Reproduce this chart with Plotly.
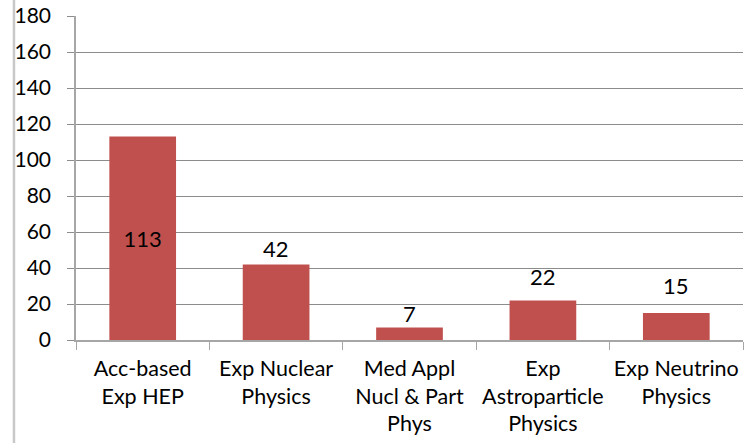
import plotly.graph_objects as go

categories = ["Acc-based<br>Exp HEP", "Exp Nuclear<br>Physics", "Med Appl<br>Nucl & Part<br>Phys",
              "Exp<br>Astroparticle<br>Physics", "Exp Neutrino<br>Physics"]
values = [113, 42, 7, 22, 15]
inside_label = [True, False, False, False, False]
y_ticks = list(range(0, 181, 20))
# pixel offsets of the outside labels above the bar tops (styling)
label_offsets_px = [0, 16, 14, 24, 28]

FONT = "Lato"
fig = go.Figure(go.Bar(
    x=categories, y=values,
    text=[str(v) if ins else "" for v, ins in zip(values, inside_label)],
    textposition="inside", insidetextanchor="middle",
    textfont=dict(family=FONT, size=22, color="black"),
    marker=dict(color="#C0504D", line=dict(width=0)),
    width=0.5, hoverinfo="skip",
))
for c, v, ins, off in zip(categories, values, inside_label, label_offsets_px):
    if not ins:
        fig.add_annotation(x=c, y=v, text=str(v), showarrow=False, yanchor="middle",
                           yshift=off, font=dict(family=FONT, size=22, color="black"))

fig.update_layout(
    width=753, height=443,
    margin=dict(l=76, r=10, t=16, b=103),
    paper_bgcolor="white", plot_bgcolor="white",
    font=dict(family=FONT, size=22, color="black"),
    showlegend=False,
    xaxis=dict(showline=True, linecolor="#A6A6A6", linewidth=1.5, automargin=False, tickangle=0,
               ticks="outside", ticklen=8, tickcolor="#A6A6A6", tickson="boundaries",
               ticklabelstandoff=8,
               tickfont=dict(family=FONT, size=21.5), showgrid=False),
    yaxis=dict(range=[0, 180], tickvals=y_ticks, showline=True, linecolor="#A6A6A6", linewidth=1.5,
               automargin=False, ticklabelstandoff=12,
               ticks="outside", ticklen=7, tickcolor="#8C8C8C",
               gridcolor="#8C8C8C", gridwidth=1, tickfont=dict(family=FONT, size=21),
               zeroline=False),
    shapes=[dict(type="line", xref="paper", yref="paper", x0=-0.093, x1=-0.093, y0=-0.5, y1=1.5,
                 line=dict(color="#C8C8C8", width=2.5))],
)
fig.write_html("out.html", config={"displayModeBar": False},
               post_script="document.body.style.margin='0';")
